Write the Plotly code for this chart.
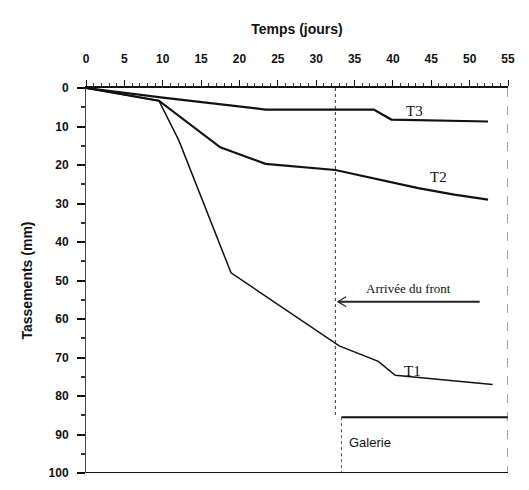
import plotly.graph_objects as go

# Settlement readings (days, mm) for the three surface points
t1_days = [0, 9.5, 12.1, 18.9, 33.0, 38.1, 40.3, 53.0]
t1_mm = [0, 3.3, 13.6, 48.0, 67.0, 71.0, 74.6, 77.0]

t2_days = [0, 9.5, 17.5, 23.4, 32.5, 38.0, 43.3, 48.0, 52.4]
t2_mm = [0, 3.3, 15.4, 19.7, 21.3, 23.6, 26.0, 27.7, 29.0]

t3_days = [0, 10.0, 23.4, 37.5, 39.8, 52.4]
t3_mm = [0, 2.5, 5.6, 5.6, 8.2, 8.7]

x_ticks = list(range(0, 56, 5))
y_ticks = list(range(0, 101, 10))

front_day = 32.5
galerie_top = 85.5

fig = go.Figure()

for days, mm, w in [(t3_days, t3_mm, 2.2), (t2_days, t2_mm, 2.2), (t1_days, t1_mm, 1.5)]:
    fig.add_trace(go.Scatter(x=days, y=mm, mode="lines",
                             line=dict(color="#111111", width=w),
                             showlegend=False, hoverinfo="skip"))

serif = "Liberation Serif, Times New Roman, serif"
sans = "Liberation Sans, Arial, sans-serif"

for txt, x, y in [("T3", 42.8, 6.0), ("T2", 46.0, 23.0), ("T1", 42.6, 73.5)]:
    fig.add_annotation(x=x, y=y, text=txt, showarrow=False,
                       font=dict(family=serif, size=15, color="#111111"))

# Front arrival marker
fig.add_shape(type="line", x0=front_day, x1=front_day, y0=0, y1=galerie_top,
              line=dict(color="#333333", width=1, dash="dot"))
fig.add_annotation(x=front_day + 0.4, y=55.5, ax=51.5, ay=55.5,
                   xref="x", yref="y", axref="x", ayref="y",
                   showarrow=True, arrowhead=0, arrowwidth=2, arrowcolor="#222222",
                   text="")
fig.add_annotation(x=front_day + 0.3, y=55.5, ax=front_day + 1.6, ay=54.0,
                   xref="x", yref="y", axref="x", ayref="y",
                   showarrow=True, arrowhead=0, arrowwidth=1.2, arrowcolor="#222222",
                   text="")
fig.add_annotation(x=front_day + 0.3, y=55.5, ax=front_day + 1.6, ay=57.0,
                   xref="x", yref="y", axref="x", ayref="y",
                   showarrow=True, arrowhead=0, arrowwidth=1.2, arrowcolor="#222222",
                   text="")
fig.add_annotation(x=42.0, y=52.0, text="Arrivée du front", showarrow=False,
                   font=dict(family=serif, size=13, color="#111111"))

# Gallery block
fig.add_shape(type="line", x0=front_day + 0.8, x1=55, y0=galerie_top, y1=galerie_top,
              line=dict(color="#111111", width=2))
fig.add_shape(type="line", x0=front_day + 0.8, x1=front_day + 0.8, y0=galerie_top, y1=100,
              line=dict(color="#555555", width=1, dash="dot"))
fig.add_annotation(x=front_day + 1.5, y=92.0, text="Galerie", showarrow=False,
                   xanchor="left", font=dict(family=sans, size=13, color="#111111"))

# Right border
fig.add_shape(type="line", x0=55, x1=55, y0=0, y1=100,
              line=dict(color="#444444", width=1, dash="dash"))

fig.update_layout(
    width=529, height=490,
    margin=dict(l=86, r=21, t=88, b=10),
    paper_bgcolor="white", plot_bgcolor="white",
    font=dict(family=sans, color="#111111"),
    xaxis=dict(side="top", range=[0, 55], tickvals=x_ticks,
               showgrid=False, zeroline=False,
               showline=True, linecolor="#111111", linewidth=2,
               ticks="outside", ticklen=6, tickwidth=1.2, tickcolor="#111111",
               ticklabelstandoff=12,
               minor=dict(dtick=1, ticks="outside", ticklen=3, tickcolor="#333333"),
               tickfont=dict(family=sans, size=12, color="#111111", weight="bold"),
               title=dict(text="<b>Temps (jours)</b>", standoff=14,
                          font=dict(family=sans, size=14, color="#111111"))),
    yaxis=dict(range=[100, 0], tickvals=y_ticks,
               showgrid=False, zeroline=False,
               showline=True, linecolor="#444444", linewidth=1,
               ticks="outside", ticklen=8, tickwidth=1.5, tickcolor="#111111",
               ticklabelstandoff=6,
               minor=dict(dtick=5, ticks="outside", ticklen=4, tickcolor="#333333"),
               tickfont=dict(family=sans, size=12, color="#111111", weight="bold"),
               title=dict(text="<b>Tassements (mm)</b>", standoff=12,
                          font=dict(family=sans, size=14, color="#111111"))),
)

# Bottom axis line
fig.add_shape(type="line", x0=0, x1=55, y0=100, y1=100,
              line=dict(color="#111111", width=2))

fig.write_html("out.html")
